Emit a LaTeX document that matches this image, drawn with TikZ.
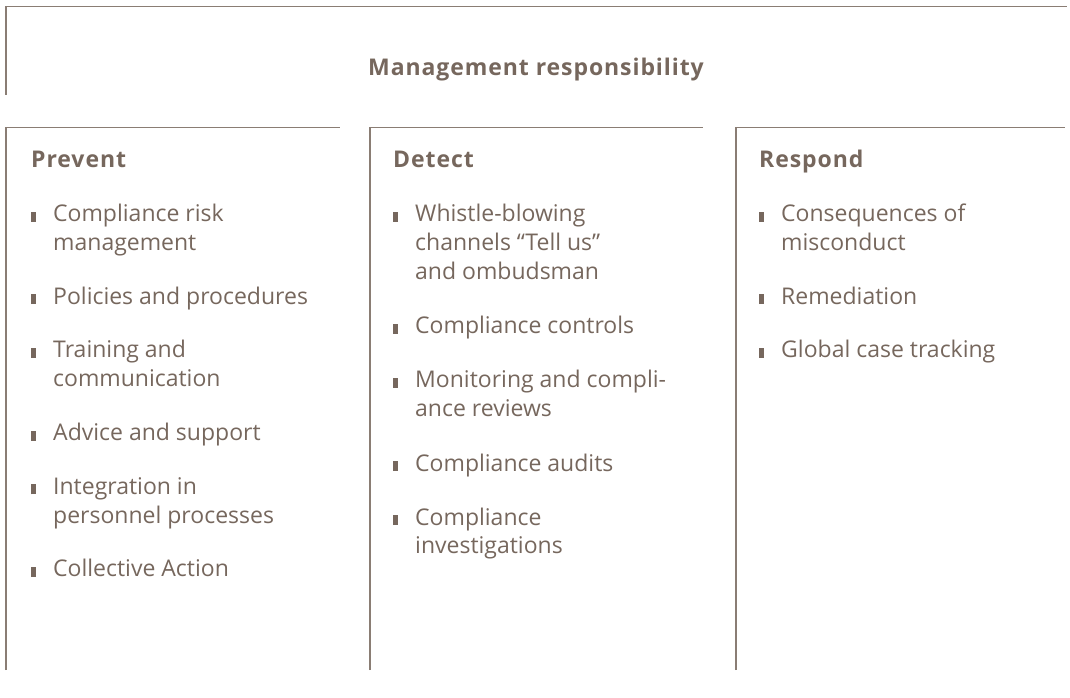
\documentclass[tikz,border=0pt]{standalone}
\usepackage{fontspec}
\setmainfont{Open Sans}
\newfontfamily\headfont[LetterSpace=4]{Open Sans}
\definecolor{txt}{HTML}{76675D}
\definecolor{rule}{HTML}{8A7D74}
\newcommand\bul{\llap{\rule{4.5pt}{10pt}\hspace{17.5pt}}}
\tikzset{
  frame/.style={draw=rule,line width=1.3pt},
  head/.style={anchor=base west,inner sep=0pt,text=txt,font=\headfont\fontsize{23}{27}\selectfont\bfseries},
  title/.style={anchor=base,inner sep=0pt,text=txt,font=\headfont\fontsize{23}{27}\selectfont\bfseries},
  item/.style={anchor=base west,inner sep=0pt,text=txt,align=left,font=\fontsize{23}{28.8}\selectfont},
}
\begin{document}
\begin{tikzpicture}[x=1pt,y=-1pt]
\useasboundingbox (0,0) rectangle (1070,698);
% frames
\draw[frame] (6,95) -- (6,6.5) -- (1067,6.5);
\draw[frame] (6,670) -- (6,127.5) -- (340,127.5);
\draw[frame] (370,670) -- (370,127.5) -- (703,127.5);
\draw[frame] (736,670) -- (736,127.5) -- (1065,127.5);
% title
\node[title] (mgmt) at (536,76) {Management responsibility};
% headers
\node[head] (prevent) at (31,167) {Prevent};
\node[head] (detect) at (393,167) {Detect};
\node[head] (respond) at (759,167) {Respond};
% Prevent (anchor = baseline of last line)
\node[item] (p1) at (53,250.3) {\bul Compliance risk\\management};
\node[item] (p2) at (53,304.1) {\bul Policies and procedures};
\node[item] (p3) at (53,386.7) {\bul Training and\\communication};
\node[item] (p4) at (53,440.5) {\bul Advice and support};
\node[item] (p5) at (53,523.1) {\bul Integration in\\personnel processes};
\node[item] (p6) at (53,576.9) {\bul Collective Action};
% Detect
\node[item] (d1) at (415,279.1) {\bul Whistle-blowing\\channels “Tell us”\\and ombudsman};
\node[item] (d2) at (415,333.5) {\bul Compliance controls};
\node[item] (d3) at (415,416.3) {\bul Monitoring and compli-\\ance reviews};
\node[item] (d4) at (415,471) {\bul Compliance audits};
\node[item] (d5) at (415,553.8) {\bul Compliance\\investigations};
% Respond
\node[item] (r1) at (781,250.3) {\bul Consequences of\\misconduct};
\node[item] (r2) at (781,304.1) {\bul Remediation};
\node[item] (r3) at (781,357.9) {\bul Global case tracking};
\end{tikzpicture}
\end{document}
